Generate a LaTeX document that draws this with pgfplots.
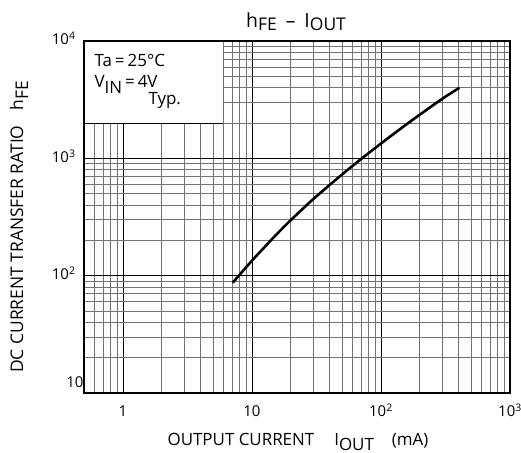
\documentclass[border=0pt]{standalone}
\usepackage{graphicx}
\usepackage{pgfplots}
\pgfplotsset{compat=1.18}
\usepackage{fontspec}
\setmainfont{Open Sans}
\newcommand\sub[1]{\raisebox{-0.3em}{#1}}
\newcommand\tsub[1]{\raisebox{-0.15em}{\scalebox{0.9}{#1}}}
\begin{document}
\begin{tikzpicture}
\useasboundingbox (0,0) rectangle (521bp,453bp);
\begin{axis}[
  at={(84bp,60bp)}, anchor=south west,
  scale only axis, width=426bp, height=352bp,
  xmode=log, ymode=log,
  xmin=0.5, xmax=1000, ymin=10, ymax=10000,
  xtick={1,10,100,1000},
  xticklabels={1,10,10\textsuperscript{2},10\textsuperscript{3}},
  ytick={10,100,1000,10000},
  yticklabels={\raisebox{9bp}{10}\hspace*{-8bp},10\textsuperscript{2},10\textsuperscript{3},10\textsuperscript{4}},
  minor xtick={0.6,0.7,0.8,0.9,2,3,4,5,6,7,8,9,20,30,40,50,60,70,80,90,200,300,400,500,600,700,800,900},
  minor ytick={20,30,40,50,60,70,80,90,200,300,400,500,600,700,800,900,2000,3000,4000,5000,6000,7000,8000,9000},
  grid=both,
  major grid style={black, line width=0.7bp},
  minor grid style={black!55, line width=0.7bp},
  axis line style={line width=1.6bp},
  major tick style={draw=none},
  minor tick style={draw=none},
  xticklabel style={font=\fontsize{15}{15}\selectfont, anchor=base, yshift=-24bp},
  yticklabel style={font=\fontsize{15}{15}\selectfont, anchor=base east, yshift=-4bp, xshift=-5bp},
  clip=false,
]
\addplot[black, line width=2.6bp, smooth, tension=0.5] table {
x y
7.1 87
10 134
15 216
20 297
30 451
50 729
70 984
100 1337
150 1871
200 2355
300 3228
405 3990
};
\fill[white] (axis cs:0.5,2000) rectangle (axis cs:5.93,10000);
\draw[black, line width=0.9bp] (axis cs:0.5,2000) -- (axis cs:5.93,2000);
\draw[black, line width=1.6bp] (axis cs:0.5,2000) -- (axis cs:0.5,10000) -- (axis cs:6,10000);
\end{axis}
\node[anchor=base, font=\fontsize{19.5}{19.5}\selectfont] at (296bp,425bp) {h\tsub{FE}\hspace{9bp}–\hspace{9bp}I\tsub{OUT}};
\node[anchor=base, font=\fontsize{17}{17}\selectfont] at (298bp,8bp) {OUTPUT CURRENT\hspace{20bp}I\sub{OUT}\hspace{18bp}(mA)};
\node[anchor=base, rotate=90, font=\fontsize{17.5}{17.5}\selectfont] at (23bp,226bp) {DC CURRENT TRANSFER RATIO\hspace{15bp}h\sub{FE}};
\node[anchor=base west, font=\fontsize{17}{17}\selectfont] at (91bp,386bp) {Ta\hspace{3bp}=\hspace{3bp}25°C};
\node[anchor=base west, font=\fontsize{17}{17}\selectfont] at (91bp,365bp) {V\sub{IN}\hspace{3bp}=\hspace{3bp}4V};
\node[anchor=base west, font=\fontsize{17}{17}\selectfont] at (145bp,348bp) {Typ.};
\end{tikzpicture}
\end{document}
